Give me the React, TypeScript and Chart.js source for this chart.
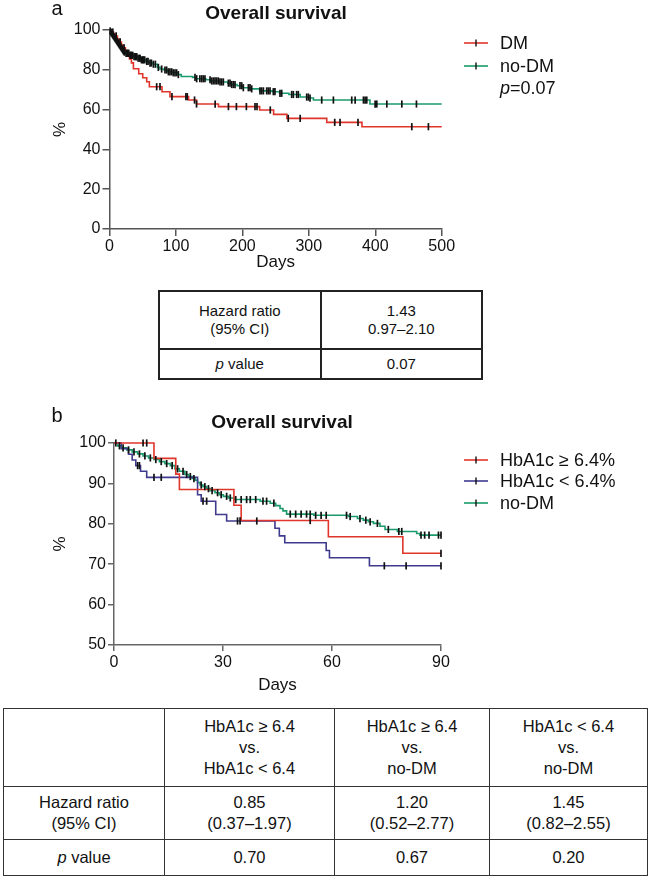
import React, { useEffect, useRef } from "react";
import { Chart, registerables } from "chart.js";
Chart.register(...registerables);

const FONT = '"Liberation Sans", Arial, Helvetica, sans-serif';
const RED = "#e0352b";
const GREEN = "#1b9a6b";
const NAVY = "#3f3b8f";
const INK = "#111";

// ---------- Panel a : Overall survival, DM vs no-DM (days 0-500) ----------
const aDmDays = [0, 3, 6, 9, 12, 15, 18, 21, 24, 27, 30, 33, 36, 44, 50, 56, 60, 79, 91, 119, 131, 164, 226, 247, 267, 327, 380, 500];
const aDmSurv = [100, 99, 98, 97, 95.5, 94, 92.5, 91, 89.5, 87.5, 85.5, 83.5, 80.5, 78, 76, 74, 71.5, 69, 66.5, 64.8, 62.8, 61.5, 59.8, 57.6, 55.6, 53.6, 51.4, 51.4];
const aDmCensor = [5, 10, 16, 22, 71, 76, 94, 115, 117, 128, 131, 159, 179, 191, 206, 219, 222, 242, 269, 287, 339, 347, 374, 455, 480];

const aNoDmDays = [0, 1, 2, 3, 4, 5, 6, 7, 8, 9, 10, 11, 12, 13, 14, 15, 16, 17, 18, 19, 20, 21, 22, 24, 30, 36, 42, 47, 55, 60, 66, 72, 76, 82, 88, 95, 103, 108, 125, 130, 145, 152, 165, 178, 183, 192, 200, 212, 226, 245, 256, 270, 287, 300, 307, 392, 500];
const aNoDmSurv = [100, 99.5, 99, 98.5, 98, 97.5, 97, 96.5, 96, 95.5, 95, 94.5, 94, 93.5, 93, 92.5, 92, 91.5, 91, 90.5, 90, 89.5, 89, 88.3, 87.3, 86.6, 85.8, 85.0, 84.2, 83.4, 82.8, 81.2, 80.4, 79.9, 79.0, 78.5, 77.6, 76.6, 76.2, 75.5, 75.0, 74.4, 73.9, 73.3, 72.6, 72.0, 71.0, 70.4, 69.4, 69.0, 68.2, 67.6, 66.3, 65.8, 64.8, 62.8, 62.8];
const aNoDmCensor = [1, 2, 3, 4, 5, 6, 7, 8, 9, 10, 11, 12, 13, 14, 15, 16, 17, 18, 19, 20, 21, 22, 23, 25, 26, 27, 28, 29, 31, 32, 33, 35, 37, 39, 40, 41, 43, 45, 46, 48, 50, 51, 53, 56, 58, 61, 63, 66, 69, 73.5, 78.5, 83.5, 86, 88.6, 91, 93.6, 96, 98.6, 101, 103.6, 128.7, 131.2, 136, 138.7, 141.2, 143.7, 151.3, 153.8, 156.3, 158.8, 161.3, 163.8, 166.3, 168.8, 171.3, 178.9, 181.4, 183.9, 186.4, 188.9, 196.4, 199, 201.4, 209, 211.5, 214, 226.5, 229, 231.6, 236.6, 239, 241.6, 246.6, 249, 256.6, 259.2, 274.2, 276.7, 281.7, 284.2, 296.8, 299.3, 301.8, 319.4, 337, 364.6, 369.7, 382.2, 384.7, 387.2, 399.8, 402.3, 417.4, 440, 462];

const aXTicks = [0, 100, 200, 300, 400, 500];
const aYTicks = [0, 20, 40, 60, 80, 100];
const aLegend = ["DM", "no-DM"];
const aPText = "=0.07";

// ---------- Panel b : Overall survival by HbA1c (days 0-90) ----------
const bHighDays = [0, 11, 17, 18, 33, 35, 59, 79.5, 90];
const bHighSurv = [100, 96.2, 92.3, 88.5, 84.6, 80.8, 76.8, 72.7, 72.7];
const bHighCensor = [8, 9, 54, 90];

const bLowDays = [0, 2, 4, 5, 6, 7.3, 9, 23, 24, 28, 31, 44.3, 45.5, 47, 58.4, 59.3, 70.3, 90];
const bLowSurv = [100, 98.6, 97.2, 95.8, 94.4, 93.0, 91.5, 87.2, 85.6, 82.3, 80.7, 78.9, 77.0, 75.3, 73.4, 71.6, 69.6, 69.6];
const bLowCensor = [6.5, 7, 11, 13, 24.5, 25.5, 34, 34.7, 39.3, 74.4, 80.4, 90];

const bNoDmDays = [0, 1, 2, 3.5, 5, 6.5, 8, 9.5, 11, 12.5, 14, 15.5, 16.8, 18, 19.5, 20.5, 21.5, 22.3, 23, 23.7, 24.5, 25.5, 26.5, 27.8, 29, 30.1, 31.5, 33, 40.2, 43, 44.5, 45.7, 46.5, 47.5, 55, 64.5, 67, 68.6, 70, 71.4, 73.2, 74.6, 78, 83.3, 84.2, 90];
const bNoDmSurv = [100, 99.3, 98.8, 98.3, 97.8, 97.3, 96.8, 96.3, 95.9, 95.4, 94.9, 94.4, 93.6, 93.0, 92.2, 91.7, 91.2, 90.8, 90.2, 89.6, 89.2, 88.7, 88.2, 87.7, 87.2, 86.8, 86.4, 86.0, 85.6, 85.1, 84.5, 83.8, 83.2, 82.4, 82.1, 81.8, 81.3, 80.9, 80.5, 80.1, 79.4, 78.6, 78.1, 77.6, 77.2, 77.2];
const bNoDmCensor = [0.5, 1.5, 2.5, 4, 5.5, 7, 8.5, 10, 11.5, 13, 14.5, 16, 17.5, 19, 20, 21, 22, 24, 25, 26, 27, 28.5, 29.5, 31, 32, 33.5, 35, 36.5, 37.5, 39, 41, 42, 44, 48.5, 50, 51.5, 53, 54, 55.5, 57, 58.4, 64, 65, 67.7, 69.3, 70.5, 72.5, 75.5, 78.4, 79.2, 84.5, 85.5, 86.7, 89.3, 90];

const bXTicks = [0, 30, 60, 90];
const bYTicks = [50, 60, 70, 80, 90, 100];
const bLegend = ["HbA1c \u2265 6.4%", "HbA1c < 6.4%", "no-DM"];

// ---------- Tables ----------
const tableARows = [
  ["Hazard ratio|(95% CI)", "1.43|0.97\u20132.10"],
  ["p value", "0.07"],
];
const tableBRows = [
  ["", "HbA1c \u2265 6.4|vs.|HbA1c < 6.4", "HbA1c \u2265 6.4|vs.|no-DM", "HbA1c < 6.4|vs.|no-DM"],
  ["Hazard ratio|(95% CI)", "0.85|(0.37\u20131.97)", "1.20|(0.52\u20132.77)", "1.45|(0.82\u20132.55)"],
  ["p value", "0.70", "0.67", "0.20"],
];

function stepAt(days: number[], surv: number[], t: number): number {
  let v = surv[0];
  for (let i = 0; i < days.length; i++) if (days[i] <= t) v = surv[i];
  return v;
}

interface Curve { days: number[]; surv: number[]; censor: number[]; color: string }

function buildDatasets(curves: Curve[]) {
  const ds: any[] = [];
  curves.forEach((c) => {
    ds.push({
      type: "line",
      data: c.days.map((d, i) => ({ x: d, y: c.surv[i] })),
      borderColor: c.color,
      borderWidth: 1.6,
      stepped: "before",
      pointRadius: 0,
      pointHoverRadius: 0,
      fill: false,
      clip: false,
      order: 2,
    });
  });
  curves.forEach((c) => {
    ds.push({
      type: "line",
      showLine: false,
      data: c.censor.map((t) => ({ x: t, y: stepAt(c.days, c.surv, t) })),
      pointStyle: "line",
      pointRotation: 90,
      pointRadius: 3.6,
      pointHoverRadius: 3.6,
      pointBorderWidth: 1.7,
      pointBorderColor: INK,
      pointBackgroundColor: INK,
      borderColor: INK,
      clip: false,
      order: 1,
    });
  });
  return ds;
}

function axis(min: number, max: number, ticksArr: number[], title: string, color: string, tickLen: number, tickPad: number, fit: number, isX: boolean, titlePad: any) {
  return {
    type: "linear",
    min,
    max,
    afterBuildTicks: (s: any) => {
      s.ticks = ticksArr.map((v) => ({ value: v }));
    },
    ticks: { font: { family: FONT, size: 16 }, color: INK, padding: tickPad, autoSkip: false, maxRotation: 0 },
    grid: { display: true, drawOnChartArea: false, drawTicks: true, tickLength: tickLen, color, lineWidth: 1.5 },
    border: { display: true, color, width: 1.5 },
    title: { display: true, text: title, font: { family: FONT, size: 17 }, color: INK, padding: titlePad },
    afterFit: (s: any) => {
      if (isX) s.height = fit;
      else s.width = fit;
    },
  };
}

function legendItem(ctx: CanvasRenderingContext2D, x: number, y: number, color: string, label: string) {
  ctx.strokeStyle = color;
  ctx.lineWidth = 1.6;
  ctx.beginPath();
  ctx.moveTo(x, y);
  ctx.lineTo(x + 24, y);
  ctx.stroke();
  ctx.strokeStyle = INK;
  ctx.lineWidth = 1.4;
  ctx.beginPath();
  ctx.moveTo(x + 12, y - 3.5);
  ctx.lineTo(x + 12, y + 3.5);
  ctx.stroke();
  ctx.fillStyle = INK;
  ctx.font = `18px ${FONT}`;
  ctx.textAlign = "left";
  ctx.textBaseline = "middle";
  ctx.fillText(label, x + 36, y + 1);
}

function annot(draw: (ctx: CanvasRenderingContext2D) => void) {
  return {
    id: "annot",
    afterDraw(chart: any) {
      const ctx = chart.ctx as CanvasRenderingContext2D;
      ctx.save();
      draw(ctx);
      ctx.restore();
    },
  };
}

function cellText(s: string) {
  const lines = s.split("|");
  return lines.map((ln, i) => (
    <React.Fragment key={i}>
      {ln.startsWith("p ") ? (
        <>
          <i>p</i>
          {ln.slice(1)}
        </>
      ) : (
        ln
      )}
      {i < lines.length - 1 ? <br /> : null}
    </React.Fragment>
  ));
}

export default function App() {
  const refA = useRef<HTMLCanvasElement>(null);
  const refB = useRef<HTMLCanvasElement>(null);

  useEffect(() => {
    const chartA = new Chart(refA.current as HTMLCanvasElement, {
      type: "line",
      data: {
        datasets: buildDatasets([
          { days: aDmDays, surv: aDmSurv, censor: aDmCensor, color: RED },
          { days: aNoDmDays, surv: aNoDmSurv, censor: aNoDmCensor, color: GREEN },
        ]),
      },
      options: {
        animation: false,
        responsive: false,
        maintainAspectRatio: false,
        events: [],
        layout: { padding: { top: 30, left: 50, right: 650 - 441.7, bottom: 285 - 229 - 47.6 } },
        plugins: { legend: { display: false }, tooltip: { enabled: false }, title: { display: false } },
        scales: {
          x: axis(0, 500, aXTicks, "Days", "#555", 7, 1, 47.6, true, { top: 0, bottom: 4 }),
          y: axis(0, 100, aYTicks, "%", "#555", 7, 2, 59.5, false, 0),
        },
      } as any,
      plugins: [
        annot((ctx) => {
          ctx.fillStyle = INK;
          ctx.textBaseline = "middle";
          ctx.textAlign = "center";
          ctx.font = `20px ${FONT}`;
          ctx.fillText("a", 57, 9);
          ctx.font = `bold 19px ${FONT}`;
          ctx.fillText("Overall survival", 276, 14);
          legendItem(ctx, 464, 43, RED, aLegend[0]);
          legendItem(ctx, 464, 66, GREEN, aLegend[1]);
          ctx.fillStyle = INK;
          ctx.textAlign = "left";
          ctx.font = `italic 18px ${FONT}`;
          ctx.fillText("p", 500, 89);
          const w = ctx.measureText("p").width;
          ctx.font = `18px ${FONT}`;
          ctx.fillText(aPText, 500 + w, 89);
        }),
      ] as any,
    });

    const chartB = new Chart(refB.current as HTMLCanvasElement, {
      type: "line",
      data: {
        datasets: buildDatasets([
          { days: bHighDays, surv: bHighSurv, censor: bHighCensor, color: RED },
          { days: bLowDays, surv: bLowSurv, censor: bLowCensor, color: NAVY },
          { days: bNoDmDays, surv: bNoDmSurv, censor: bNoDmCensor, color: GREEN },
        ]),
      },
      options: {
        animation: false,
        responsive: false,
        maintainAspectRatio: false,
        events: [],
        layout: { padding: { top: 43, left: 50, right: 650 - 441, bottom: 305 - 245 - 54.6 } },
        plugins: { legend: { display: false }, tooltip: { enabled: false }, title: { display: false } },
        scales: {
          x: axis(0, 90, bXTicks, "Days", "#666", 6, 2, 54.6, true, { top: 0, bottom: 4 }),
          y: axis(50, 100, bYTicks, "%", "#666", 6, 2, 64, false, 0),
        },
      } as any,
      plugins: [
        annot((ctx) => {
          ctx.fillStyle = INK;
          ctx.textBaseline = "middle";
          ctx.textAlign = "center";
          ctx.font = `20px ${FONT}`;
          ctx.fillText("b", 57, 16);
          ctx.font = `bold 19px ${FONT}`;
          ctx.fillText("Overall survival", 282, 23);
          legendItem(ctx, 464, 60, RED, bLegend[0]);
          legendItem(ctx, 464, 81, NAVY, bLegend[1]);
          legendItem(ctx, 464, 103, GREEN, bLegend[2]);
        }),
      ] as any,
    });

    return () => {
      chartA.destroy();
      chartB.destroy();
    };
  }, []);

  const cellA: React.CSSProperties = { border: "2px solid #222", textAlign: "center", verticalAlign: "middle", padding: 0 };
  const cellB: React.CSSProperties = { border: "1.5px solid #333", textAlign: "center", verticalAlign: "middle", padding: 0 };
  const bWidths = [161, 170, 155, 158];
  const bHeights = [78, 53, 36];

  return (
    <div style={{ position: "absolute", left: 0, top: 0, width: 650, height: 878, background: "#fff", overflow: "hidden" }}>
      <canvas ref={refA} width={650} height={285} style={{ position: "absolute", left: 0, top: 0, width: 650, height: 285 }} />
      <table
        style={{
          position: "absolute",
          left: 158,
          top: 290,
          width: 325,
          borderCollapse: "collapse",
          tableLayout: "fixed",
          fontFamily: FONT,
          fontSize: 15,
          lineHeight: "18px",
          color: INK,
        }}
      >
        <tbody>
          {tableARows.map((row, r) => (
            <tr key={r} style={{ height: r === 0 ? 58 : 30 }}>
              {row.map((c, i) => (
                <td key={i} style={cellA}>
                  {cellText(c)}
                </td>
              ))}
            </tr>
          ))}
        </tbody>
      </table>
      <canvas ref={refB} width={650} height={305} style={{ position: "absolute", left: 0, top: 400, width: 650, height: 305 }} />
      <table
        style={{
          position: "absolute",
          left: 3,
          top: 708,
          width: 644,
          borderCollapse: "collapse",
          tableLayout: "fixed",
          fontFamily: FONT,
          fontSize: 16.5,
          lineHeight: "21px",
          color: INK,
        }}
      >
        <colgroup>
          {bWidths.map((w, i) => (
            <col key={i} style={{ width: w }} />
          ))}
        </colgroup>
        <tbody>
          {tableBRows.map((row, r) => (
            <tr key={r} style={{ height: bHeights[r] }}>
              {row.map((c, i) => (
                <td key={i} style={cellB}>
                  {cellText(c)}
                </td>
              ))}
            </tr>
          ))}
        </tbody>
      </table>
    </div>
  );
}
